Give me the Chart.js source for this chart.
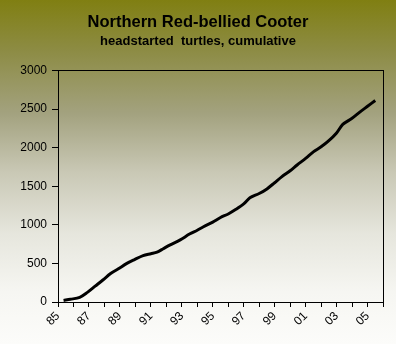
<!DOCTYPE html>
<html lang="en">
<head>
    <meta charset="UTF-8">
    <title>Northern Red-bellied Cooter</title>
    <script src="https://cdn.jsdelivr.net/npm/chart.js@4/dist/chart.umd.min.js"></script>
    <style>
        * {
            margin: 0;
            padding: 0;
            box-sizing: border-box;
        }

        body {
            width: 396px;
            height: 344px;
            overflow: hidden;
        }

        .chart-box {
            width: 396px;
            height: 344px;
            background: linear-gradient(to bottom, #807f12 0%, #8d8c45 15%, #a3a27f 33%, #c9c8b5 50%, #e6e6dd 68%, #f6f6f2 85%, #fcfcfa 100%);
        }
    </style>
</head>
<body>
    <div class="chart-box">
        <canvas id="cooterChart" width="396" height="344"></canvas>
    </div>

    <script>
        // Cumulative headstarted turtles (x = year, decimal)
        const years = [
            1985.36, 1985.8, 1986.4, 1986.9, 1987.4, 1987.9, 1988.4, 1988.9,
            1989.45, 1989.95, 1990.5, 1991.0, 1991.4, 1991.8, 1992.25, 1992.9,
            1993.5, 1994.0, 1994.4, 1995.0, 1995.5, 1996.0, 1996.5, 1997.0,
            1997.4, 1998.0, 1998.5, 1999.0, 1999.45, 2000.0, 2000.45, 2001.0,
            2001.5, 2002.0, 2002.5, 2003.0, 2003.4, 2004.0, 2004.5, 2005.0, 2005.5
        ];
        const totals = [
            20, 35, 60, 125, 205, 285, 370, 430,
            500, 550, 600, 625, 645, 690, 740, 805,
            880, 930, 975, 1035, 1095, 1140, 1200, 1270,
            1350, 1405, 1465, 1545, 1620, 1700, 1775, 1860,
            1945, 2010, 2090, 2190, 2300, 2380, 2460, 2535, 2610
        ];
        const labeledYears = [1985, 1987, 1989, 1991, 1993, 1995, 1997, 1999, 2001, 2003, 2005];
        const yTicks = [0, 500, 1000, 1500, 2000, 2500, 3000];

        const points = years.map((yr, i) => ({ x: yr, y: totals[i] }));

        // box round the plot area
        const plotBorder = {
            id: 'plotBorder',
            afterDraw(chart) {
                const a = chart.chartArea;
                const ctx = chart.ctx;
                ctx.save();
                ctx.strokeStyle = '#000';
                ctx.lineWidth = 1;
                ctx.strokeRect(Math.round(a.left) + 0.5, Math.round(a.top) + 0.5,
                    Math.round(a.right - a.left), Math.round(a.bottom - a.top));
                ctx.restore();
            }
        };

        const font = "'Liberation Sans', Arial, sans-serif";

        new Chart(document.getElementById('cooterChart'), {
            type: 'line',
            data: {
                datasets: [{
                    data: points,
                    borderColor: '#000',
                    borderWidth: 3,
                    pointRadius: 0,
                    tension: 0.3,
                    fill: false
                }]
            },
            options: {
                responsive: false,
                animation: false,
                layout: { padding: { left: 13, right: 13, top: 0, bottom: 0 } },
                plugins: {
                    legend: { display: false },
                    tooltip: { enabled: false },
                    title: {
                        display: true,
                        text: 'Northern Red-bellied Cooter',
                        color: '#000',
                        font: { family: font, size: 16.5, weight: 'bold' },
                        padding: { top: 13, bottom: 0 }
                    },
                    subtitle: {
                        display: true,
                        text: 'headstarted  turtles, cumulative',
                        color: '#000',
                        font: { family: font, size: 13, weight: 'bold' },
                        padding: { top: 1, bottom: 21 }
                    }
                },
                scales: {
                    x: {
                        type: 'linear',
                        min: 1985,
                        max: 2006,
                        afterBuildTicks(scale) {
                            const t = [];
                            for (let v = 1985; v <= 2006; v++) t.push({ value: v });
                            scale.ticks = t;
                        },
                        afterFit(scale) { scale.height = 42; },
                        grid: { drawOnChartArea: false, drawTicks: true, tickLength: 5, color: '#000' },
                        border: { color: '#000', width: 1 },
                        ticks: {
                            autoSkip: false,
                            maxRotation: 45,
                            minRotation: 45,
                            padding: 2,
                            color: '#000',
                            font: { family: font, size: 12 },
                            callback: (v) => labeledYears.includes(v) ? String(v % 100).padStart(2, '0') : ''
                        }
                    },
                    y: {
                        min: 0,
                        max: 3000,
                        afterBuildTicks(scale) {
                            scale.ticks = yTicks.map(v => ({ value: v }));
                        },
                        afterFit(scale) { scale.width = 45; },
                        grid: { drawOnChartArea: false, drawTicks: true, tickLength: 6, color: '#000' },
                        border: { color: '#000', width: 1 },
                        ticks: {
                            padding: 5,
                            color: '#000',
                            font: { family: font, size: 12 },
                            callback: (v) => String(v)
                        }
                    }
                }
            },
            plugins: [plotBorder]
        });
    </script>
</body>
</html>
